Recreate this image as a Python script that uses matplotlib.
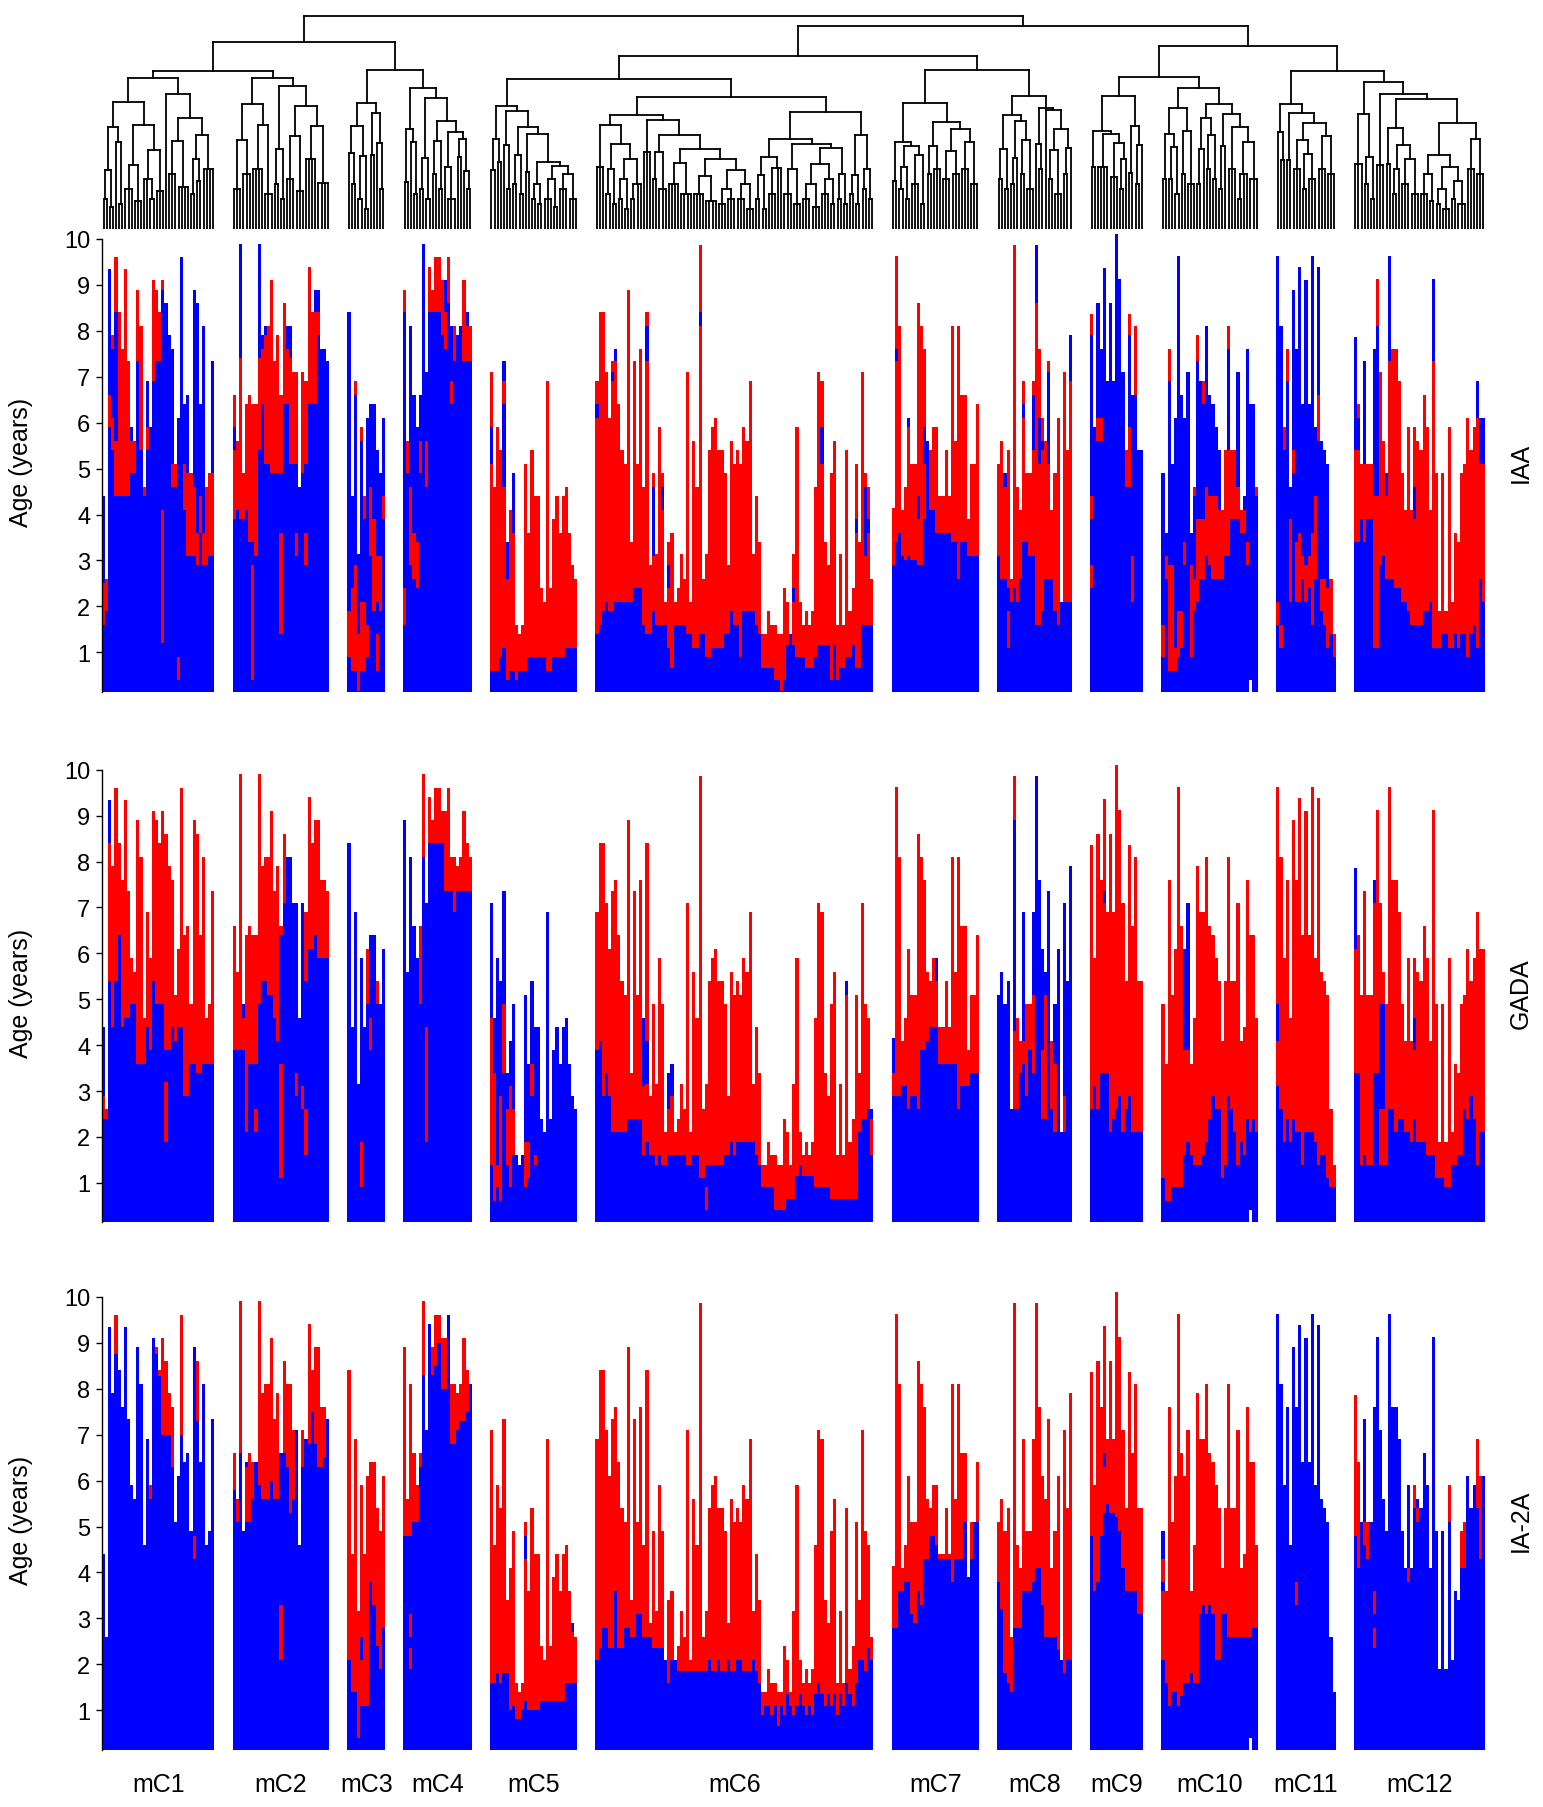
import matplotlib
matplotlib.use("Agg")
import matplotlib.pyplot as plt
from matplotlib.collections import LineCollection
from matplotlib.transforms import blended_transform_factory

plt.rcParams["font.family"] = ["Liberation Sans", "DejaVu Sans"]

W, H = 1543, 1808
BLUE = "#0000ff"
RED = "#ff0000"

clusters = ["mC1", "mC2", "mC3", "mC4", "mC5", "mC6",
            "mC7", "mC8", "mC9", "mC10", "mC11", "mC12"]

# age at last visit of every child, in dendrogram order (one string per cluster)
top_age = [
    "4.4 2.6 9.35 7.9 9.6 8.4 7.6 9.35 7.35 5.9 5.6 8.9 8.1 4.6 6.9 5.9 9.1 8.9 8.4 9.1 "
    "8.6 7.9 7.6 5.1 6.1 9.6 6.4 6.6 4.9 8.9 8.6 6.4 8.1 4.6 4.9 7.35",
    "6.6 5.6 9.9 4.9 6.4 6.6 6.4 6.4 9.9 7.9 8.1 8.1 9.1 7.35 7.9 6.6 8.6 8.1 8.1 7.1 "
    "7.1 4.6 7.1 6.9 9.4 8.4 8.9 8.9 7.6 7.6 7.35",
    "8.4 4.4 6.9 3.15 5.9 4.4 6.1 6.4 6.4 5.4 4.9 6.1",
    "8.9 5.6 8.1 6.6 5.9 6.6 9.9 7.1 9.4 8.9 9.6 9.6 9.1 9.1 9.6 8.1 8.1 7.9 8.1 9.1 8.4 8.1",
    "7.1 4.6 5.9 5.4 7.35 3.4 4.1 4.9 1.6 1.4 1.6 5.1 3.6 5.4 4.4 4.4 2.4 2.1 6.9 2.4 "
    "3.9 4.4 3.6 4.4 4.6 3.6 2.9 2.6",
    "6.9 8.4 8.4 7.1 6.1 7.35 7.6 6.4 5.4 5.1 8.9 3.4 7.35 5.1 7.6 4.6 8.4 2.9 4.9 3.15 "
    "5.9 4.9 2.1 3.4 3.6 2.1 2.4 3.15 2.6 7.1 2.1 5.6 4.6 9.87 2.6 3.15 5.4 5.9 6.1 5.4 "
    "5.4 4.9 2.9 5.6 5.1 5.4 5.1 5.9 5.6 6.9 3.15 4.4 3.4 1.4 1.4 1.9 1.6 1.6 1.4 1.4 "
    "2.4 2.1 1.4 3.15 5.9 2.1 1.6 1.9 1.6 1.9 4.6 7.1 6.9 3.4 2.9 4.9 5.6 1.6 3.15 1.6 "
    "5.4 1.9 2.4 5.1 3.4 7.1 4.9 4.6 2.6",
    "4.15 9.63 8.1 4.1 4.6 6.1 5.1 5.1 8.6 8.1 7.6 5.6 5.4 5.9 5.9 4.4 4.4 5.4 4.4 8.1 "
    "5.6 8.1 6.6 6.6 3.9 5.1 5.1 6.4",
    "5.1 5.6 4.9 5.4 2.6 9.87 4.6 4.1 6.9 4.9 4.9 6.9 9.87 7.6 6.1 5.6 7.35 4.1 4.9 6.1 "
    "2.1 7.1 5.4 7.9",
    "8.37 5.9 8.6 7.6 9.37 6.9 8.6 6.9 10.1 9.13 7.1 5.4 8.37 6.6 8.1 5.4 5.4",
    "4.9 3.6 7.6 5.1 6.1 9.63 6.6 6.1 7.1 3.6 4.6 7.9 6.9 6.9 8.1 6.6 6.4 5.9 5.4 4.1 "
    "5.4 8.1 5.4 5.4 7.1 4.1 4.4 7.6 6.4 6.4 4.6",
    "9.63 8.1 5.9 7.6 4.6 8.9 7.6 9.38 6.4 9.1 6.4 9.63 5.9 9.38 5.6 5.4 5.1 2.6 1.4",
    "7.86 6.4 5.1 7.35 5.1 5.1 7.6 9.13 7.1 5.6 4.9 9.63 7.6 7.6 6.9 4.9 4.1 5.9 4.1 5.9 "
    "5.6 5.4 6.6 5.9 4.1 9.13 4.9 1.9 4.9 1.9 5.9 2.1 3.6 3.4 4.9 5.1 6.1 5.4 5.9 6.9 6.1 6.1",
]

# ages where the status flips (negative first); "-" = never positive
iaa_flips = [
    "1.6/2.5 1.9 5.9/6.6 5.4/6.1/7.6 4.4/5.6/8.4 4.4 4.4 4.4 4.4 4.9/5.6 4.9 7.35 5.4 4.4 "
    "5.4/5.9 - 6.9 7.35 7.35 1.2/4.1/8.9 - - 4.6/5.1 4.6 0.4/0.9 - 4.1/5.1 3.1/4.9 3.1 "
    "3.1/4.6 2.9/3.6 3.6/4.4 2.9/3.6 2.9 3.1 3.1/4.9",
    "3.9/5.4/5.9 4.1 3.9/7.4 3.9 4.1 3.4 0.4/2.9/3.4 3.1 5.4/7.4 6.4/7.6 5.1/7.9 5.1 4.9 4.9 "
    "4.9 1.4/3.6/4.9 6.4 6.4/7.6 5.1/7.4 5.1 3.1/3.6/5.1 - 4.9 2.9/3.6/5.1 6.4 6.4 6.4/8.4 "
    "7.9/8.4 - - -",
    "0.9/1.9 0.6/2.4 0.6/2.9/6.6 0.15/1.4 0.6/2.1/5.6 0.6/2.1/3.9 0.9/1.6 3.1/4.6 1.9/3.9 "
    "0.6/1.4/2.1/3.1 1.9/3.1 3.9/4.4",
    "1.6/2.4/8.4 4.9 2.9/4.6 2.6/3.6 2.4/3.4 4.9/5.6 - 4.6/5.6 8.4 8.4 8.4 8.4 7.9 7.6/8.4 "
    "8.6 6.4/6.9 7.35 - - 7.35 7.35/8.1 7.35",
    "0.6/5.1/5.9 0.6 0.6 0.9 1.1/4.6/6.4/6.9 0.4/2.6 0.6 0.6/3.6 0.4 0.6 0.6 0.6 0.9 0.9 "
    "0.9 0.9 0.9 0.9 0.6 0.6 0.9 0.9 0.9 0.9 1.1 1.1 1.1 1.1",
    "1.4/6.1/6.4 1.6 1.9 2.1 1.9 1.9/6.9/7.1 2.1/7.35 2.1 2.1 2.1 "
    "2.1 2.1 2.4 2.4 2.4 1.6 1.4/7.35/8.1 1.4 1.9/3.1/4.6 1.6 "
    "1.6 1.6/4.1/4.6 1.6 1.1/2.4/2.9 0.65 1.6 1.6 1.6 1.6 1.4 "
    "1.4 1.1 1.1 1.4/8.1/8.4 1.4 0.9 0.9 1.1 1.1 1.1 "
    "1.1 1.4 1.4 1.9 1.6 1.6 0.9 1.9 1.9 1.9 "
    "1.9 1.6 1.4 0.65 0.65 0.65 0.65 0.4 0.4 0.15 "
    "0.4 1.15 - 1.15/2.1/2.4 0.9 0.9 0.9 0.65 0.65 0.65 "
    "0.9 1.15 1.15/5.1/5.9 1.15 1.15 0.4 1.15 0.4 0.65 0.65 "
    "0.9 0.9 1.15 0.65/3.6/3.9 0.65 1.6 1.6/3.1/4.6 1.6/3.6/3.9 1.6",
    "2.9 3.4/7.35/7.6 3.6 3.1 3.0 3.1/5.9 3.0 3.0 2.9/3.9/4.4 2.9 3.9/5.1/5.9 - 4.1 4.1 3.6 "
    "3.6 3.6 3.6 3.6 3.4 3.4 2.6 3.4 3.4 3.1 3.1 3.1 3.1",
    "3.1 2.6 2.6/4.6 1.1/1.9/2.4 2.1 2.4 2.1 2.6 3.4/6.1/6.4 3.4 3.1 3.1/5.4/6.6 1.6/8.6 "
    "1.6/5.1/6.1 1.9/5.4/5.6 2.6 2.6/5.1/7.1 2.6 1.9 1.6 - 2.1 2.1 2.1/6.9",
    "2.4/2.9/3.9/4.4/7.9 - 5.6/6.1 5.6/6.1 - - - - - - - 4.6 4.6/5.9/7.9 2.1/3.1 6.6 - -",
    "0.9/1.6 2.6/3.1 0.6/2.9/6.9 0.6/2.9 0.6/1.1 0.9/1.9 1.1/1.9 2.9/3.4 - 0.9/2.9 "
    "1.9/2.6/4.4 2.1/3.9/7.35 2.6/3.9 2.6/3.9/6.4 3.1/4.6 2.9/4.4 2.6/4.4 2.6/4.4 2.6/4.1 "
    "2.6 3.1 3.1/5.4/7.6 3.9 3.9/5.4 3.9/4.6 3.6/4.1 3.6/4.1 2.9/3.4 - - 4.4",
    "1.6/2.1 1.1/1.6 5.4 6.9 2.1/3.9 4.9/5.4 2.1/3.4 2.1/3.6 2.6/3.1 2.1/2.9 2.4/3.1 "
    "1.6/3.6 2.6/4.4 5.6/6.6 1.9/2.6 1.6/2.6 1.1/2.4 1.4 0.9",
    "3.4/5.4 3.4/5.4/6.1 3.9 3.4/5.1 3.9 3.9 1.1/4.4 1.1/4.4/8.1 2.9 3.1 2.6/4.4 2.6/7.35 "
    "2.6 2.4 2.4 2.1 2.1 1.9 1.6 1.6/3.9/4.6 1.6 1.6 1.9 1.9 2.1 1.1/7.35 1.1 1.1 1.4 1.4 "
    "1.1 1.1 1.4 1.1 1.4 1.4 0.9 1.4 1.6 1.1/6.1 2.6/5.1 2.1/5.1",
]

gada_flips = [
    "2.4/2.9 2.4 5.4/8.4 4.4 5.4 6.4 4.4 4.6 4.6 4.9 4.9 3.6 3.6 3.6 4.4 3.9 5.4 4.9 4.9 "
    "4.9 1.9/3.2/3.9 3.9 4.4 4.1 4.4 4.4 2.9 2.9 3.6 3.6 3.4 3.4 3.6 3.6 3.6 3.6",
    "3.9 3.9 3.9 3.9/4.6 2.1 3.6 3.6 2.1/2.6/3.6 4.9 5.4 5.4 5.1 5.1 4.6 4.1 1.1/3.6/6.4 "
    "7.1 - - - 2.9/3.4 - 2.6/3.1 1.6/2.6/5.4 6.1 6.1 6.4 5.9 5.9 5.9 5.9",
    "- - - - 0.9/1.9 - 4.9 3.9/4.6 - 4.9/5.4 - -",
    "- - - - - 4.9 8.1 1.9/4.4 8.4 8.4 8.4 8.4 8.4 7.35 7.35 7.35 6.9 7.35 7.35 7.35 7.35 7.35",
    "1.4/4.6 0.6/3.4 0.9/1.4 0.6/2.9 3.4/4.9 1.4/2.6 0.9/3.1 1.6/2.6 - - - 0.9/1.9 1.1/1.9 "
    "2.9/3.6 1.4/1.6 - - - - - - - - - - - - -",
    "3.9 4.1 2.9 3.4 2.9 2.1 2.1 2.1 2.1 2.1 "
    "2.4 2.4 2.4 2.4 2.4 1.6/3.1 1.9/3.15/4.1 1.6 1.6 1.4 "
    "1.6 1.4 1.4 1.6/2.6 1.6/2.9 1.6 1.6 1.6 1.6 1.4 "
    "1.4 1.6 1.6 1.1 1.1 0.4/0.9/1.4 1.4 1.4 1.4 1.4 "
    "1.4 1.6 1.6 1.9 1.6 1.9 1.9 1.9 1.9 1.9 "
    "1.9 1.6 1.4 0.9 0.9 0.9 0.9 0.4 0.4 0.4 "
    "0.4 0.65 0.65 0.65 1.15 1.4 1.15 1.15 1.15 1.15 "
    "0.9 0.9 0.9 0.9 0.9 0.65 0.65 0.65 0.65 0.65 "
    "0.65/5.1 0.65 0.65 0.65 2.1 2.4 2.4 2.6 1.6/2.4",
    "2.9/3.4 2.9 2.9 3.1 3.1 2.6 2.9 2.9 2.6 3.9 3.9 4.1 4.4 4.4 4.4/5.4 3.6 3.6 3.6 3.6 "
    "3.6 3.6 2.6 3.1 3.1 3.1 3.4 3.4 3.4",
    "- - - - - 2.6/4.3/8.9 2.6 3.4 3.6/4.1 2.9 3.9 3.4/5.1 - - 2.4/3.9 2.4/5.1 - 2.6 "
    "2.1/3.6 - - 2.1/2.9 - -",
    "2.6 3.1 2.6 3.4 3.4/7.1/7.35 3.4 2.1 2.4 2.6 2.9 2.1 2.6 2.9 2.1 2.1 2.1 2.1",
    "1.1 0.6 0.6 0.9 0.9 0.9 0.9 1.6/3.9 1.9/3.9 1.6 1.4 1.4 1.4 1.6 1.9 2.4 2.9 2.6 2.6 "
    "1.1 1.4 2.9 2.6 2.1 1.4 1.9 1.6 2.4 2.1 2.4 2.1",
    "3.1/4.1/4.9 2.6 1.9 2.4 1.9 2.4 2.1 2.1 1.4 2.1 2.1 2.1 1.9 1.4 1.6 1.6 1.1 0.9 0.9",
    "3.4/6.1 3.4 1.4 1.6 1.4 1.4 3.4/7.1 3.4 1.4/2.6/4.9 1.4/2.6/4.9 1.4 2.6 2.6 2.1 2.4 "
    "2.4 2.1 2.1 1.9 2.4/3.9/4.6 1.9 1.9 1.9 1.6 1.6 1.6 1.1 1.1 1.1 0.9 0.9 1.4 1.4 1.6 "
    "1.6 2.6 2.4 2.9 2.4 1.4 2.1 2.1",
]

ia2a_flips = [
    "- - - - 8.75 - - - - - - - - - - 5.6 - 8.75 8.27 7.0 7.0 7.0 6.3 - - 7.0 - - - "
    "4.3/4.8 7.3 - - - - -",
    "5.8 5.1 6.6 - 5.1/6.3 5.1 5.6 - 5.9 5.6 5.6 5.6 6.0 5.6 5.6 2.1/3.3 6.6 6.3 5.3 5.6 "
    "- - 6.3 - 6.8 7.5 6.8 6.3 6.3 6.5 -",
    "2.1 1.4 1.4 0.4 1.1/2.1/2.6 1.1 1.1 3.8 3.3 2.4 1.9 2.8",
    "4.8 4.8 1.9/2.35/2.6/3.1/4.8 5.1 5.1 6.3 8.3 - - 8.3 8.5 9.0 8.0 8.0 - 6.8 6.8 7.1 "
    "7.3 7.3 7.5 -",
    "1.6 1.6 1.8 1.6 1.8 1.8 1.0 1.1 0.8 0.8 1.0 1.2/4.3/4.8 1.0 1.0 1.0 1.0 1.2 1.2 1.2 "
    "1.2 1.2 1.2 1.2 1.2 1.6 1.6 1.6/2.7 1.6",
    "2.1 2.35 2.8 2.8 2.35 2.35 3.6 2.35 2.35 2.8 "
    "2.8 2.6 2.6 3.1 3.1 2.6 2.6 2.6 2.35 2.35 "
    "2.35 2.35 2.35 1.6 2.1 2.1 1.85 1.85 1.85 1.85 "
    "1.85 1.85 1.85 1.85 1.85 1.85 2.1 1.85 1.85 2.1 "
    "1.85 1.85 2.1 1.85 1.85 2.1 2.1 1.85 1.85 1.85 "
    "2.1 1.85 1.6 0.9 1.1 1.1 0.9 1.1 0.65 1.1 "
    "0.9 1.35 1.1 0.9 1.1 1.35 1.1 0.9 1.1 0.9 "
    "1.35 1.6 1.35 1.1 1.35 1.1 1.35 0.9 1.35 1.1 "
    "1.6 1.35 1.1 1.6 2.1 2.1 1.85 2.35 2.1",
    "2.8 2.8 3.6 3.6 3.8 3.8 3.1 2.9 3.6 3.3 4.3 4.3 4.8 4.8 4.6 4.3 4.3 4.3 4.3 3.8 4.3 "
    "4.3 4.3 5.1 - 4.3 - 5.1",
    "3.8 3.2 1.8 1.6 1.4 2.8 2.8 2.8 3.6 3.6 3.6 3.8 4.1 4.1 3.3 2.6 2.6 2.6 2.6 2.3 - "
    "1.8 2.1 2.1",
    "4.8 3.6 3.8 4.8 5.3/6.3/6.6 5.5 5.3 5.3 5.2 4.9 4.1 3.6 3.6 3.6 3.6 3.1 3.1",
    "2.1/3.6/3.8/4.3 1.6 1.1 1.4 1.4 1.1 1.3 1.6 1.6 1.8 1.6 1.6 3.1 3.3 3.1 3.3 3.1 2.1 "
    "2.1 3.1 3.1 2.6 2.6 2.6 2.6 2.6 2.6 2.6 2.6 2.8 2.8",
    "- - - - - - 3.3/3.8 - - - - - - - - - - - -",
    "4.8 4.1 - 4.6/5.1 4.3 - 2.35/2.8/3.1/3.6 - - - - - - - - - - 3.8/4.1 - 5.4 5.1/5.4 "
    "- - - - - - - - - 5.1 - - - 4.1 4.1 - - - 5.4 4.3 -",
]

# children whose first visit is later than the common start: (cluster, column, age)
late_start = [("mC10", 28, 0.4)]

# dendrogram inside each cluster: [height, children...]; an int k = k single leaves
cluster_trees = [
    [151, [127, [102, [59, [30, 2], [22, 2]], [87, 1, [25, 2]]],
           [104, [64, [40, 3], [28, 3]], [79, [50, 2, [30, 2]], [38, 3]]]],
     [135, 1, [111, [88, [55, 3], [42, 4]], [94, [70, [35, 2], [48, 2]], [60, 4]]]]],
    [151, [125, [89, [40, 3], [55, 3]], [104, [60, 4], [35, 3]]],
     [143, [80, [45, 2], [30, 2]], [123, [93, [50, 3], [38, 3]], [103, [70, 4], [46, 4]]]]],
    [126, [103, [76, 1, [45, 2]], [73, [30, 2], [20, 2]]], [116, [74, 2], [86, 1, [40, 2]]]],
    [141, [100, [47, 2], [87, 1, [35, 2]]],
     [131, [71, [40, 2], [30, 2]],
      [108, [88, [55, 2], [40, 2]], [97, [62, 1, [30, 3]], [90, [72, 2], [58, 1, [40, 2]]]]]]],
    [123, [90, [59, 2], [67, 2]],
     [118, [84, 1, [40, 2]],
      [102, [74, [45, 2], [35, 2]],
       [95, [57, 2], [67, [45, [30, 2], [25, 2]],
                      [63, [50, [30, 3], [22, 2]], [55, [40, 3], [30, 3]]]]]]]],
    [132,
     [114,
      [104, [62, 3], [85, [60, [35, 2], [25, 2]], [70, [50, [30, 2], [20, 2]], [45, [30, 2], 2]]]],
      [109, [77, 3],
       [94, [77, [50, 2], [40, 3]],
        [80, [66, [45, 4], [35, 4]],
         [70, [53, [35, 4], [28, 4]],
          [59, [40, [25, 3], [30, 3]], [45, [30, 3], [20, 3]]]]]]]],
     [117,
      [90, [72, [54, [30, 2], [20, 2]], [61, [35, 3], 2]],
       [85, [60, [35, 3], [25, 3]],
        [81, [65, [45, [30, 3], [22, 3]], [50, [35, 3], [25, 2]]], [55, [30, 2], [25, 2]]]]],
      [94, [54, [35, 2], [25, 2]], [60, [40, 2], [30, 2]]]]],
    [126, [87, [48, 2], [83, [62, [40, 2], [30, 2]], [74, [45, 3], [25, 2]]]],
     [107, [83, [55, 2], [60, 3]], [100, [78, [50, 3], [55, 3]], [87, [60, 3], [45, 3]]]]],
    [133, [114, [80, [50, 2], [40, 2]], [108, [71, [45, 2], 1], [89, [55, 2], [40, 3]]]],
     [121, [85, 1, [60, 2]], [119, 1, [100, [79, [50, 2], [35, 3]], [81, [55, 2], 1]]]]],
    [133, [98, [62, 2], [95, [62, 4], [86, [52, 3], [70, [40, 2], 1]]]],
     [103, [56, 2], [84, [45, 2], 1]]],
    [141, [121, [95, [50, 2], [82, [50, 2], [35, 2]]], [98, [55, 2], [45, 3]]],
     [125, [111, [80, [45, 2], 1], [94, [60, 2], [50, 2]]],
      [115, [83, [40, 2], 1], [102, [60, 3], [87, [55, [30, 2], 2], [50, 3]]]]]],
    [125, [97, 1, [69, 2]],
     [116, [69, 2], [106, [89, [60, 3], [75, [40, 2], [50, 3]]], [93, [60, 3], [55, 3]]]]],
    [147, [115, [65, 3], [72, [45, 2], [30, 2]]],
     [135, [64, 3],
      [130, [101, [65, 2], [84, [60, [35, 2], 1], [70, [45, 3], [35, 3]]]],
       [106, [74, [55, [35, 3], [28, 2]], [62, [40, [25, 2], [20, 3]], [48, [30, 2], [25, 3]]]],
        [90, [60, 3], [55, 3]]]]]],
]

# how the clusters join
upper_tree = [213, [187, [158, "mC1", "mC2"], [159, "mC3", "mC4"]],
              [203, [173, [150, "mC5", "mC6"], [159, "mC7", "mC8"]],
               [183, [152, "mC9", "mC10"], [158, "mC11", "mC12"]]]]

panel_names = ["IAA", "GADA", "IA-2A"]

# ---------------------------------------------------------------- layout
GAP = 5.79
Y0, Y1 = 0.142, 10.15
tops = [[float(v) for v in s.split()] for s in top_age]
sizes = [len(t) for t in tops]
starts = []
pos = 0.0
for n in sizes:
    starts.append(pos)
    pos += n + GAP
total = pos - GAP

fig = plt.figure(figsize=(W / 100, H / 100), dpi=100)
left, width = 102 / W, 1383 / W


def frac(top_px, bottom_px):
    return [left, 1 - bottom_px / H, width, (bottom_px - top_px) / H]


# ---------------------------------------------------------------- dendrogram
ax_d = fig.add_axes(frac(15, 230))
ax_d.set_xlim(0, total)
ax_d.set_ylim(0, 215)
ax_d.axis("off")

leaf_x = iter([starts[k] + i + 0.5 for k in range(len(clusters)) for i in range(sizes[k])])
segs = []


def walk(node):
    h = node[0]
    pts = []
    for ch in node[1:]:
        if isinstance(ch, int):
            pts.extend((next(leaf_x), 0.0) for _ in range(ch))
        elif isinstance(ch, str):
            pts.append(walk(cluster_trees[clusters.index(ch)]))
        else:
            pts.append(walk(ch))
    xs = [p[0] for p in pts]
    for x, y in pts:
        segs.append([(x, y), (x, h)])
    segs.append([(min(xs), h), (max(xs), h)])
    return (min(xs) + max(xs)) / 2, h


walk(upper_tree)
ax_d.add_collection(LineCollection(segs, colors="black", linewidths=1.3,
                                   capstyle="projecting"))

# ---------------------------------------------------------------- panels
panel_px = [(233.1, 692.7), (763.8, 1223.3), (1291.0, 1750.6)]
late = {(clusters.index(c), i): a for c, i, a in late_start}

for p, (name, flips) in enumerate(zip(panel_names, [iaa_flips, gada_flips, ia2a_flips])):
    ax = fig.add_axes(frac(*panel_px[p]))
    xs = {BLUE: [], RED: []}
    bots = {BLUE: [], RED: []}
    hts = {BLUE: [], RED: []}
    for k in range(len(clusters)):
        tokens = flips[k].split()
        for i, top in enumerate(tops[k]):
            tok = tokens[i]
            cuts = [] if tok == "-" else [float(v) for v in tok.split("/")]
            cur = late.get((k, i), 0.0)
            positive = False
            for c in cuts + [top]:
                c = min(c, top)
                if c > cur:
                    col = RED if positive else BLUE
                    xs[col].append(starts[k] + i)
                    bots[col].append(cur)
                    hts[col].append(c - cur)
                    cur = c
                positive = not positive
    for col in (BLUE, RED):
        ax.bar(xs[col], hts[col], bottom=bots[col], width=1.0, align="edge",
               color=col, linewidth=0, antialiased=False)

    ax.set_xlim(0, total)
    ax.set_ylim(Y0, Y1)
    for s in ("top", "right", "bottom"):
        ax.spines[s].set_visible(False)
    ax.spines["left"].set_bounds(Y0, 10)
    ax.spines["left"].set_linewidth(1.0)
    ax.set_xticks([])
    ax.set_yticks(range(1, 11))
    ax.tick_params(axis="y", length=4.5, width=1.0, pad=4, labelsize=17)

    yc = 1 - (panel_px[p][0] + panel_px[p][1]) / 2 / H
    fig.text(21 / W, yc, "Age (years)", rotation=90, ha="center", va="center", fontsize=18)
    fig.text(1521 / W, yc, name, rotation=90, ha="center", va="center", fontsize=18)

    if p == 2:
        tr = blended_transform_factory(ax.transData, ax.transAxes)
        for k, cname in enumerate(clusters):
            ax.text(starts[k] + sizes[k] / 2, -0.075, cname, transform=tr,
                    ha="center", va="center", fontsize=18)

fig.savefig("out.png", dpi=100)
